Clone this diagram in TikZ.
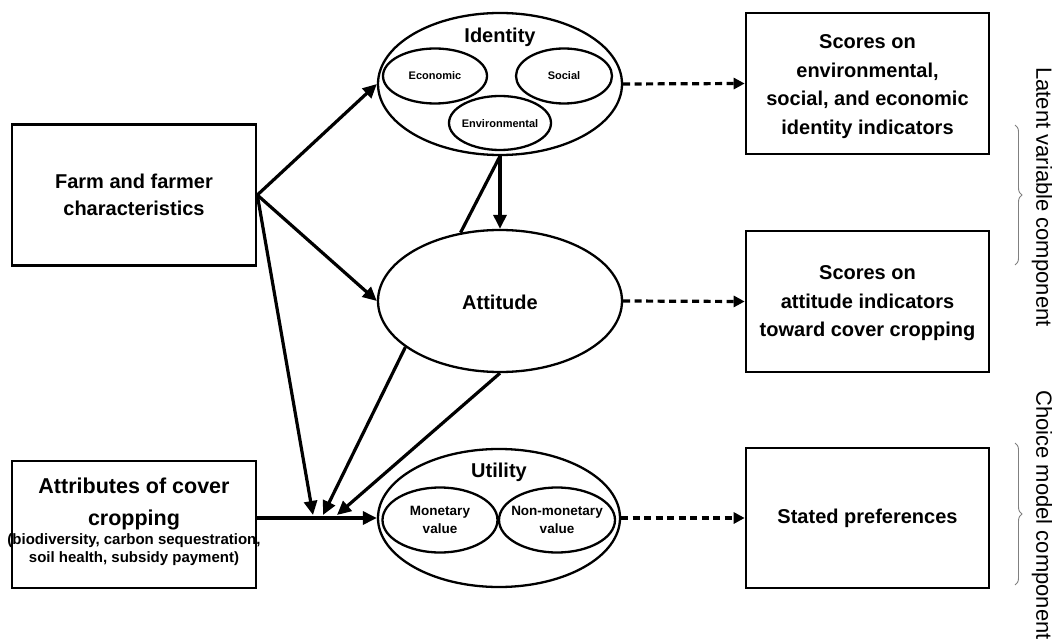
\documentclass[tikz,border=0pt]{standalone}
\usepackage{fontspec}
\setmainfont{Liberation Sans}
\usetikzlibrary{arrows.meta,shapes.geometric,decorations.pathreplacing}
\begin{document}
\begin{tikzpicture}[x=1pt,y=-1pt,
  box/.style={draw, line width=2.6pt, minimum width=243pt, inner sep=0pt, align=center, font=\fontsize{20}{28.5}\selectfont\bfseries},
  oval/.style={draw, ellipse, line width=2.3pt, inner sep=0pt},
  small/.style={font=\fontsize{11}{13}\selectfont\bfseries, align=center},
  mid/.style={font=\fontsize{13.5}{18}\selectfont\bfseries, align=center},
  big/.style={font=\fontsize{20}{27}\selectfont\bfseries, align=center},
  attbig/.style={anchor=base, inner sep=0pt, font=\fontsize{21.5}{31}\selectfont\bfseries},
  attsmall/.style={anchor=base, inner sep=0pt, font=\fontsize{15}{18}\selectfont\bfseries},
  conn/.style={line width=3.2pt, -{Triangle[length=14pt,width=13pt]}},
  dconn/.style={line width=3.2pt, dash pattern=on 7pt off 4.5pt, -{Triangle[length=11pt,width=11pt]}},
  brc/.style={draw=gray, line width=0.9pt, decorate, decoration={brace, amplitude=7pt}},
  side/.style={rotate=-90, font=\fontsize{22}{26}\selectfont}
]
\useasboundingbox (0,0) rectangle (1052,644);

% left boxes
\node[box, minimum height=141pt, minimum width=244pt, font=\fontsize{20}{27}\selectfont\bfseries] (farm) at (134,195) {Farm and farmer\\characteristics};
\node[draw, line width=2.6pt, minimum width=244pt, minimum height=127pt, inner sep=0pt] (attr) at (134,524.5) {};
\node[attbig] (attr1) at (134,493) {Attributes of cover};
\node[attbig] (attr2) at (134,525) {cropping};
\node[attsmall] (attr3) at (134,544) {(biodiversity, carbon sequestration,};
\node[attsmall] (attr4) at (134,562) {soil health, subsidy payment)};

% identity
\node[oval, minimum width=244pt, minimum height=142pt] (idn) at (500,84) {};
\node[big] (idlab) at (500,37) {Identity};
\node[oval, minimum width=104pt, minimum height=55pt] (econ) at (435,76) {};
\node[small] (econt) at (435,76) {Economic};
\node[oval, minimum width=96pt, minimum height=55pt] (soc) at (564,76) {};
\node[small] (soct) at (564,76) {Social};
\node[oval, minimum width=102pt, minimum height=54pt] (env) at (500,123) {};
\node[small] (envt) at (500,124) {Environmental};

% attitude
\node[oval, minimum width=244pt, minimum height=142pt] (att) at (500,301) {};
\node[big] (attt) at (500,302) {Attitude};

% utility
\node[oval, minimum width=242pt, minimum height=138pt] (util) at (499,518) {};
\node[big] (utlab) at (499,472) {Utility};
\node[oval, minimum width=115pt, minimum height=65pt] (mon) at (440,520) {};
\node[mid] (mont) at (440,520) {Monetary\\value};
\node[oval, minimum width=116pt, minimum height=65pt] (nmon) at (557,520) {};
\node[mid] (nmont) at (557,520) {Non-monetary\\value};

% right boxes
\node[box, minimum height=141pt] (b1) at (867.5,83.5) {\rule{0pt}{20pt}Scores on\\environmental,\\social, and economic\\identity indicators};
\node[box, minimum height=141pt] (b2) at (867.5,301.5) {\rule{0pt}{18pt}Scores on\\attitude indicators\\toward cover cropping};
\node[box, minimum height=140pt] (b3) at (867.5,518) {Stated preferences};

% convergence points
\coordinate (c1) at (313,515);
\coordinate (c2) at (323,515);
\coordinate (c3) at (337,515);

% connectors
\draw[conn] (farm.east) -- (idn.west);
\draw[conn] (farm.east) -- (att.west);
\draw[conn] (farm.east) -- (c1);
\draw[conn] (att.206) -- (c2);
\draw[conn] (att.south) -- (c3);
\draw[conn] (attr.east |- util.west) -- (util.west);
\draw[conn] (idn.south) -- (att.north);
\draw[line width=3.2pt] (idn.south) -- (att.120);

\draw[dconn] (idn.east) -- (b1.west);
\draw[dconn] (att.east) -- (b2.west);
\draw[dconn] (util.east) -- (b3.west);

% braces and side labels
\coordinate (br1a) at (1015,125);
\coordinate (br1b) at (1015,265);
\coordinate (br2a) at (1015,443);
\coordinate (br2b) at (1015,585);
\draw[brc] (br1a) -- (br1b);
\draw[brc] (br2a) -- (br2b);
\node[side] (lat) at (1042,197) {Latent variable component};
\node[side] (cho) at (1042,515) {Choice model component};
\end{tikzpicture}
\end{document}
